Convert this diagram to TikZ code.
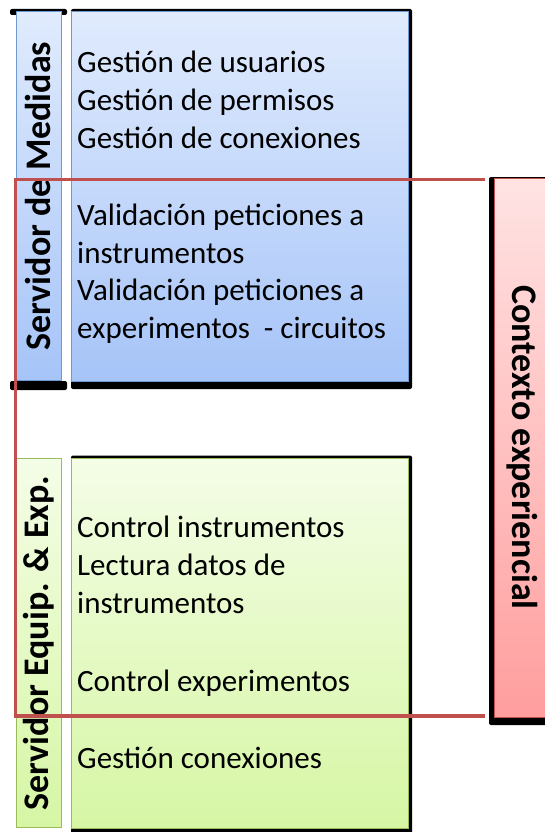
\documentclass[tikz,border=0pt]{standalone}
\usepackage{fontspec}
\setmainfont{Carlito}
\begin{document}
\begin{tikzpicture}[x=1pt,y=-1pt,
  shadowbar/.style={fill=black,draw=none},
  bluebox/.style={top color=blueTop,bottom color=blueBot,draw=blueEdge,line width=1pt},
  greenbox/.style={top color=greenTop,bottom color=greenBot,draw=greenEdge,line width=1pt},
  redbox/.style={top color=redTop,bottom color=redBot,draw=redEdge,line width=1pt},
  itemtext/.style={anchor=base west,inner sep=0pt,font=\fontsize{31}{36}\selectfont},
  vlabel/.style={inner sep=0pt,font=\fontsize{36}{40}\selectfont\bfseries},
  bracket/.style={draw=redLine,line width=3.5pt}]
\definecolor{blueTop}{HTML}{E0EBFD}
\definecolor{blueBot}{HTML}{A6C4F8}
\definecolor{blueEdge}{HTML}{6E9AD2}
\definecolor{greenTop}{HTML}{F4FDE7}
\definecolor{greenBot}{HTML}{D6F6A4}
\definecolor{greenEdge}{HTML}{9BBB59}
\definecolor{redTop}{HTML}{FFE3E3}
\definecolor{redBot}{HTML}{FF9E9E}
\definecolor{redEdge}{HTML}{C0504D}
\definecolor{redLine}{HTML}{C0504D}
\useasboundingbox (0,0) rectangle (545,832);
% shadows
\fill[shadowbar,rounded corners=2pt] (10,9) rectangle (67,15);
\fill[shadowbar,rounded corners=2pt] (10,381) rectangle (67,390);
\fill[shadowbar,rounded corners=2pt] (71,9) rectangle (412,389);
\fill[shadowbar,rounded corners=2pt] (71,455.5) rectangle (412,836);
\fill[shadowbar,rounded corners=2pt] (489,177) rectangle (550,725);
% boxes
\node[bluebox,minimum width=45pt,minimum height=368pt,inner sep=0pt] (lblA) at (38.5,196) {};
\node[bluebox,minimum width=337pt,minimum height=369pt,inner sep=0pt] (boxA) at (239.5,196.5) {};
\node[greenbox,minimum width=45pt,minimum height=369pt,inner sep=0pt] (lblB) at (38.5,643) {};
\node[greenbox,minimum width=337pt,minimum height=370pt,inner sep=0pt] (boxB) at (239.5,643) {};
\node[redbox,minimum width=56pt,minimum height=539pt,inner sep=0pt] (boxC) at (522,447.5) {};
% labels
\node[vlabel,rotate=90] (tA) at (lblA.center) {Servidor de Medidas};
\node[vlabel,rotate=90] (tB) at (lblB.center) {Servidor Equip. \& Exp.};
\node[vlabel,rotate=-90] (tC) at (boxC.center) {Contexto experiencial};
% items
\node[itemtext] (a1) at (77,73) {Gestión de usuarios};
\node[itemtext] (a2) at (77,110.5) {Gestión de permisos};
\node[itemtext] (a3) at (77,148) {Gestión de conexiones};
\node[itemtext] (a4) at (77,225.5) {Validación peticiones a};
\node[itemtext] (a5) at (77,263) {instrumentos};
\node[itemtext] (a6) at (77,300.5) {Validación peticiones a};
\node[itemtext] (a7) at (77,338) {experimentos\ \ - circuitos};
\node[itemtext] (b1) at (77,537) {Control instrumentos};
\node[itemtext] (b2) at (77,575) {Lectura datos de};
\node[itemtext] (b3) at (77,613) {instrumentos};
\node[itemtext] (b4) at (77,691) {Control experimentos};
\node[itemtext] (b5) at (77,768) {Gestión conexiones};
% bracket
\coordinate (brTR) at (485,179.5);
\coordinate (brTL) at (15.5,179.5);
\coordinate (brBL) at (15.5,716);
\coordinate (brBR) at (485,716);
\draw[bracket] (brTR) -- (brTL) -- (brBL) -- (brBR);
\end{tikzpicture}
\end{document}
